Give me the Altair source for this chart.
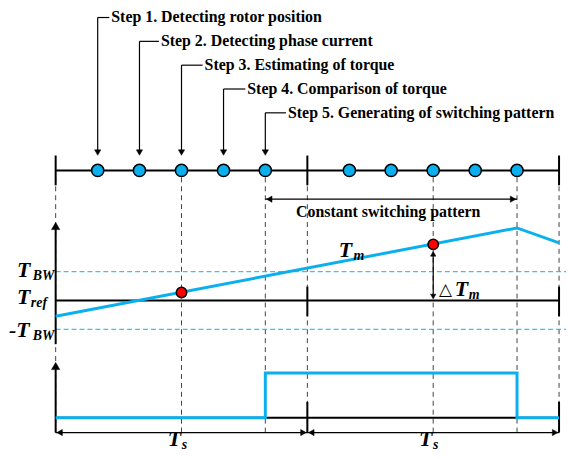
import altair as alt
import pandas as pd

# ---------------- data ----------------
step_labels = [
    "Step 1. Detecting rotor position",
    "Step 2. Detecting phase current",
    "Step 3. Estimating of torque",
    "Step 4. Comparison of torque",
    "Step 5. Generating of switching pattern",
]
step_times = [0.167, 0.333, 0.5, 0.667, 0.833]          # within one period Ts
period_bounds = [0.0, 1.0, 2.0]                          # in units of Ts
torque_t = [0.0, 1.833, 2.0]
torque_v = [-0.55, 2.52, 2.0]                            # T_m, in units of T_BW
sample_t = [0.5, 1.5]
sample_v = [0.28, 1.95]
band_v = [1.0, -1.0]                                     # +T_BW, -T_BW
switch_t = [0.0, 0.833, 0.833, 1.833, 1.833, 2.0]
switch_v = [0, 0, 1, 1, 0, 0]
constant_span = [0.833, 1.833]

# ---------------- layout ----------------
W, H = 562, 443
X0, TS = 56.0, 253.5            # page px of t=0, px per Ts
def px2t(px):
    return (px - X0) / TS

Y_TL = 170
Y_REF, K_T = 301, 29
Y_SW0, K_S = 419, 45
Y_ARR = 434
Y_CONST = 199
def ty(v):
    return Y_REF - K_T * v
def sy(v):
    return Y_SW0 - K_S * v

BLUE = "#0AB0EE"
GRAY = "#444444"
FONT = "Liberation Serif"

XS = alt.Scale(domain=[px2t(8), px2t(8 + W)], nice=False, zero=False)
YS = alt.Scale(domain=[8 + H, 8], nice=False, zero=False)

def X(f="x"):
    return alt.X(f"{f}:Q", scale=XS, axis=None)
def Y(f="y"):
    return alt.Y(f"{f}:Q", scale=YS, axis=None)

def rules(rows, color, width, dash=None):
    df = pd.DataFrame(rows, columns=["x", "x2", "y", "y2"])
    kw = dict(color=color, strokeWidth=width)
    if dash:
        kw["strokeDash"] = dash
    return alt.Chart(df).mark_rule(**kw).encode(x=X(), x2="x2", y=Y(), y2="y2")

def heads(rows, shape, size):
    df = pd.DataFrame(rows, columns=["x", "y"])
    return alt.Chart(df).mark_point(shape=shape, filled=True, size=size, fill="black",
                                    stroke="black", strokeWidth=0.5, opacity=1).encode(x=X(), y=Y())

layers = []

# gray dashed verticals
vt = [0.0, 0.5, 0.833, 1.0, 1.5, 1.833, 2.0]
layers.append(rules([(t, t, 177, Y_ARR) for t in vt], GRAY, 1, [5, 4]))

# blue dashed band lines
layers.append(rules([(0.0, px2t(8 + W), ty(v), ty(v)) for v in band_v], BLUE, 1, [5, 3]))

# black solid structure
solid = []
solid.append((period_bounds[0], period_bounds[-1], Y_TL, Y_TL))
solid += [(t, t, 155, 185) for t in period_bounds]
solid.append((0.0, 0.0, 226, 345))                     # torque axis
solid.append((0.0, 2.0, Y_REF, Y_REF))
solid += [(t, t, 287, 317) for t in period_bounds[1:]]
solid.append((0.0, 0.0, 366, Y_ARR))                   # switch axis
solid.append((0.0, 2.0, Y_SW0, Y_SW0))
solid += [(t, t, 403, Y_ARR) for t in period_bounds[1:]]
layers.append(rules(solid, "black", 2))

thin = []
thin.append((0.0, 2.0, Y_ARR, Y_ARR))
thin.append((constant_span[0], constant_span[1], Y_CONST, Y_CONST))
thin.append((1.5, 1.5, 254, 297))
# step connectors
label_x = [112, 162, 206, 249, 290]
label_y = [16, 40, 64, 88, 112]
for t, lx, ly in zip(step_times, label_x, label_y):
    thin.append((t, px2t(lx - 2), ly, ly))
    thin.append((t, t, ly, 150))
layers.append(rules(thin, "black", 1.2))

# arrowheads (symbol centred just inside the tip)
layers.append(heads([(0.0, 226), (0.0, 367)], "triangle-up", 70))
layers.append(heads([(1.5, 254)], "triangle-up", 30))
layers.append(heads([(1.5, 297)], "triangle-down", 30))
layers.append(heads([(t, 152) for t in step_times], "triangle-down", 40))
layers.append(heads([(px2t(X0 + 4), Y_ARR), (px2t(X0 + TS + 4), Y_ARR),
                     (constant_span[0] + 4 / TS, Y_CONST)], "triangle-left", 40))
layers.append(heads([(1.0 - 4 / TS, Y_ARR), (2.0 - 4 / TS, Y_ARR),
                     (constant_span[1] - 4 / TS, Y_CONST)], "triangle-right", 40))

# torque waveform
tdf = pd.DataFrame({"x": torque_t, "y": [ty(v) for v in torque_v], "o": range(len(torque_t))})
layers.append(alt.Chart(tdf).mark_line(color=BLUE, strokeWidth=3).encode(x=X(), y=Y(), order="o:Q"))

# switching waveform
sdf = pd.DataFrame({"x": switch_t, "y": [sy(v) for v in switch_v], "o": range(len(switch_t))})
layers.append(alt.Chart(sdf).mark_line(color=BLUE, strokeWidth=3).encode(x=X(), y=Y(), order="o:Q"))

# sampling dots on timeline
dots = [(t, Y_TL) for t in step_times] + [(1 + t, Y_TL) for t in step_times]
ddf = pd.DataFrame(dots, columns=["x", "y"])
layers.append(alt.Chart(ddf).mark_point(shape="circle", filled=True, size=150, fill=BLUE,
                                         stroke="black", strokeWidth=1.5, opacity=1).encode(x=X(), y=Y()))

# red sample points
rdf = pd.DataFrame({"x": sample_t, "y": [ty(v) for v in sample_v]})
layers.append(alt.Chart(rdf).mark_point(shape="circle", filled=True, size=110, fill="#FF0000",
                                         stroke="black", strokeWidth=1.5, opacity=1).encode(x=X(), y=Y()))

# step texts
sdf2 = pd.DataFrame({"x": [px2t(v) for v in label_x], "y": label_y, "text": step_labels})
layers.append(alt.Chart(sdf2).mark_text(align="left", baseline="middle", font=FONT, fontWeight="bold",
                                         fontSize=16, color="black").encode(x=X(), y=Y(), text="text:N"))
layers.append(alt.Chart(pd.DataFrame({"x": [px2t(391)], "y": [212], "text": ["Constant switching pattern"]}))
              .mark_text(align="center", baseline="middle", font=FONT, fontWeight="bold", fontSize=16, color="black")
              .encode(x=X(), y=Y(), text="text:N"))

# math labels
big = [  # (px x, baseline y, text)
    (17, 277, "T"), (17, 305, "T"), (9, 338, "-T"),
    (341, 257, "T"), (458, 296, "T"),
    (169, 448, "T"), (422, 448, "T"),
]
small = [
    (33, 280, "BW"), (31, 308, "ref"), (33, 341, "BW"),
    (356, 260, "m"), (472, 299, "m"),
    (183, 451, "s"), (436, 451, "s"),
]
bdf = pd.DataFrame([(px2t(a), b, c) for a, b, c in big], columns=["x", "y", "text"])
layers.append(alt.Chart(bdf).mark_text(align="left", baseline="alphabetic", font=FONT, fontWeight="bold",
                                        fontStyle="italic", fontSize=22, color="black").encode(x=X(), y=Y(), text="text:N"))
smdf = pd.DataFrame([(px2t(a), b, c) for a, b, c in small], columns=["x", "y", "text"])
layers.append(alt.Chart(smdf).mark_text(align="left", baseline="alphabetic", font=FONT, fontWeight="bold",
                                         fontStyle="italic", fontSize=14, color="black").encode(x=X(), y=Y(), text="text:N"))
layers.append(alt.Chart(pd.DataFrame({"x": [px2t(442)], "y": [295], "text": ["△"]}))
              .mark_text(align="left", baseline="alphabetic", font="DejaVu Sans", fontSize=17, color="black")
              .encode(x=X(), y=Y(), text="text:N"))

chart = alt.layer(*layers).properties(
    width=W, height=H,
    autosize=alt.AutoSizeParams(type="none"),
    padding=0,
).configure_view(stroke=None)

chart.save("out.html", embed_options={"renderer": "svg", "actions": False})
